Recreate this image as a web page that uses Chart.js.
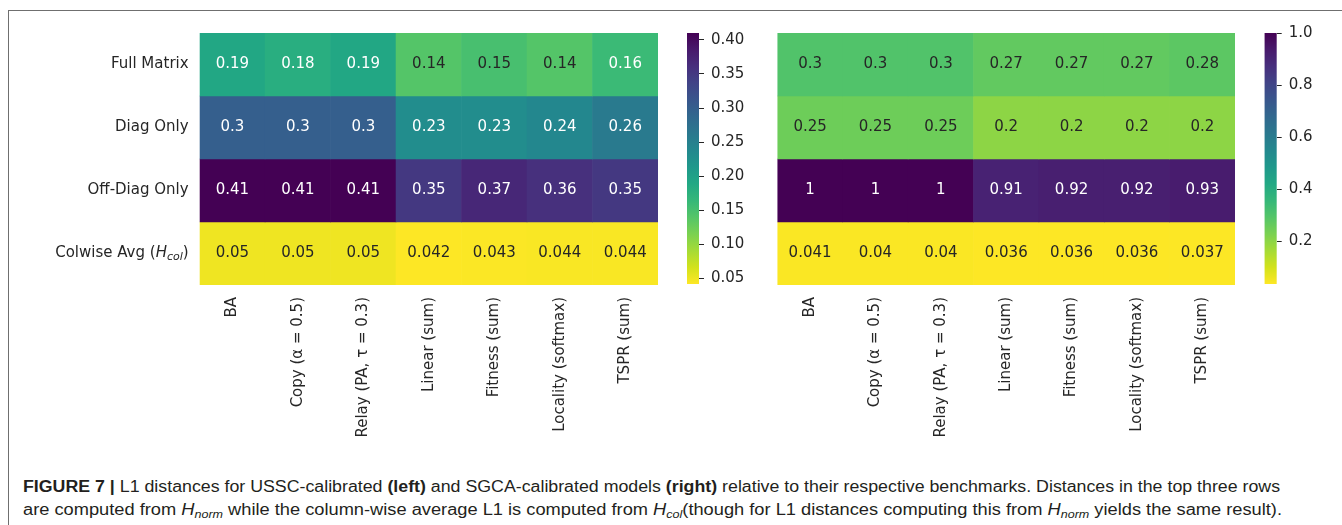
<!DOCTYPE html>
<html>
<head>
<meta charset="utf-8">
<script src="https://cdn.jsdelivr.net/npm/chart.js@4.4.1/dist/chart.umd.min.js"></script>
<style>
  html, body { margin: 0; padding: 0; background: #fff; }
  body { width: 1342px; height: 525px; position: relative; overflow: hidden; }
  .frame { position: absolute; left: 8px; top: 10px; width: 1340px; height: 520px;
           border-top: 1.5px solid #6f6f6f; border-left: 1.5px solid #6f6f6f; }
  .box { position: absolute; }
  .cap { position: absolute; left: 23px; white-space: nowrap; line-height: 20px;
         font-family: "Liberation Sans Narrow", "Liberation Sans", Arial, sans-serif;
         font-size: 16px; color: #231f20; transform-origin: 0 50%; }
  .cap sub { font-size: 11px; vertical-align: -3px; line-height: 0; }
</style>
</head>
<body>
<div class="frame"></div>
<div class="box" style="left:0;top:0;width:660px;height:450px"><canvas id="heatLeft"></canvas></div>
<div class="box" style="left:680px;top:0;width:90px;height:300px"><canvas id="barLeft"></canvas></div>
<div class="box" style="left:760px;top:0;width:480px;height:450px"><canvas id="heatRight"></canvas></div>
<div class="box" style="left:1255px;top:0;width:87px;height:300px"><canvas id="barRight"></canvas></div>

<div class="cap" id="cap1" data-w="1257" style="top:477px"><b>FIGURE 7 |</b> L1 distances for USSC-calibrated <b>(left)</b> and SGCA-calibrated models <b>(right)</b> relative to their respective benchmarks. Distances in the top three rows</div>
<div class="cap" id="cap2" data-w="1259" style="top:500px">are computed from <i>H</i><sub><i>norm</i></sub> while the column-wise average L1 is computed from <i>H</i><sub><i>col</i></sub>(though for L1 distances computing this from <i>H</i><sub><i>norm</i></sub> yields the same result).</div>

<script>
// Models (columns) and distance types (rows)
const models = ['BA', 'Copy (α = 0.5)', 'Relay (PA, τ = 0.3)', 'Linear (sum)',
                'Fitness (sum)', 'Locality (softmax)', 'TSPR (sum)'];
const rowLabels = ['Full Matrix', 'Diag Only', 'Off-Diag Only', 'Colwise Avg (H_col)'];

// USSC-calibrated L1 distances
const usscFull    = [0.19, 0.18, 0.19, 0.14, 0.15, 0.14, 0.16];
const usscDiag    = [0.3, 0.3, 0.3, 0.23, 0.23, 0.24, 0.26];
const usscOffDiag = [0.41, 0.41, 0.41, 0.35, 0.37, 0.36, 0.35];
const usscColwise = [0.05, 0.05, 0.05, 0.042, 0.043, 0.044, 0.044];

// SGCA-calibrated L1 distances
const sgcaFull    = [0.3, 0.3, 0.3, 0.27, 0.27, 0.27, 0.28];
const sgcaDiag    = [0.25, 0.25, 0.25, 0.2, 0.2, 0.2, 0.2];
const sgcaOffDiag = [1, 1, 1, 0.91, 0.92, 0.92, 0.93];
const sgcaColwise = [0.041, 0.04, 0.04, 0.036, 0.036, 0.036, 0.037];

// Colorbar tick labels
const usscTicks = [0.05, 0.10, 0.15, 0.20, 0.25, 0.30, 0.35, 0.40];
const sgcaTicks = [0.2, 0.4, 0.6, 0.8, 1.0];

const FONT = { family: '"DejaVu Sans", sans-serif', size: 15 };
const INK = '#262626';
const DARK_TEXT_LUMINANCE = 0.385;

// viridis colormap, 16 evenly spaced stops
const VIRIDIS = ['#440154', '#481a6c', '#472f7d', '#414487', '#39568c', '#31688e', '#2a788e', '#23888e',
                 '#1f988b', '#22a884', '#35b779', '#54c568', '#7ad151', '#a5db36', '#d2e21b', '#fde725'];
const hexRgb = h => [1, 3, 5].map(i => parseInt(h.slice(i, i + 2), 16));
function viridis(t) {
  t = Math.min(1, Math.max(0, t));
  const p = t * (VIRIDIS.length - 1), i = Math.min(Math.floor(p), VIRIDIS.length - 2), f = p - i;
  const a = hexRgb(VIRIDIS[i]), b = hexRgb(VIRIDIS[i + 1]);
  return a.map((c, k) => Math.round(c + (b[k] - c) * f));
}
// reversed viridis: low values yellow, high values purple
const cellRgb = (v, lo, hi) => viridis(1 - (v - lo) / (hi - lo));
const rgbStr = c => `rgb(${c[0]},${c[1]},${c[2]})`;
function luminance(c) {
  const lin = c.map(x => { x /= 255; return x <= 0.03928 ? x / 12.92 : Math.pow((x + 0.055) / 1.055, 2.4); });
  return 0.2126 * lin[0] + 0.7152 * lin[1] + 0.0722 * lin[2];
}
const fmt2g = v => String(parseFloat(v.toPrecision(2)));

// value annotations in the cells
const cellText = {
  id: 'cellText',
  afterDatasetsDraw(chart) {
    const ctx = chart.ctx;
    ctx.save();
    ctx.font = `${FONT.size}px ${FONT.family}`;
    ctx.textAlign = 'center';
    ctx.textBaseline = 'middle';
    chart.data.datasets.forEach((ds, di) => {
      chart.getDatasetMeta(di).data.forEach((bar, i) => {
        const c = ds.rgb[i];
        ctx.fillStyle = luminance(c) > DARK_TEXT_LUMINANCE ? INK : '#ffffff';
        ctx.fillText(fmt2g(ds.values[i]), bar.x, (bar.y + bar.base) / 2);
      });
    });
    ctx.restore();
  }
};

// row labels carrying a subscripted symbol, e.g. "(H_col)"
const richRowLabels = {
  id: 'richRowLabels',
  afterDraw(chart) {
    const ys = chart.scales.y;
    if (!ys.options.display) return;
    const ctx = chart.ctx;
    ctx.save();
    ctx.fillStyle = INK;
    ctx.textBaseline = 'middle';
    ctx.textAlign = 'left';
    ys.ticks.forEach((t, i) => {
      const m = /^(.*?)([A-Za-z])_(\w+)(.*)$/.exec(rowLabels[i]);
      if (!m) return;
      const reg = `${FONT.size}px ${FONT.family}`;
      const ital = `italic ${FONT.size}px ${FONT.family}`;
      const sub = `italic ${Math.round(FONT.size * 0.7)}px ${FONT.family}`;
      const parts = [[m[1], reg, 0], [m[2], ital, 0], [m[3], sub, 4], [m[4], reg, 0]];
      let w = 0;
      parts.forEach(p => { ctx.font = p[1]; p.push(ctx.measureText(p[0]).width); w += p[3]; });
      let x = ys.right - ys.options.ticks.padding - w;
      const y = ys.getPixelForValue(t.value);
      parts.forEach(p => { ctx.font = p[1]; ctx.fillText(p[0], x, y + p[2]); x += p[3]; });
    });
    ctx.restore();
  }
};

function heatmap(id, rows, lo, hi, showRows, pad, yWidth) {
  const datasets = rows.map((vals, r) => {
    const rgb = vals.map(v => cellRgb(v, lo, hi));
    return {
      data: vals.map(() => [r, r + 1]),
      values: vals,
      rgb: rgb,
      backgroundColor: rgb.map(rgbStr),
      borderWidth: 0,
      grouped: false,
      barPercentage: 1,
      categoryPercentage: 1
    };
  });
  return new Chart(document.getElementById(id), {
    type: 'bar',
    data: { labels: models, datasets },
    plugins: [cellText, richRowLabels],
    options: {
      responsive: true, maintainAspectRatio: false, animation: false,
      layout: { padding: pad },
      plugins: { legend: { display: false }, tooltip: { enabled: false } },
      scales: {
        x: {
          grid: { display: false, drawTicks: false }, border: { display: false },
          afterFit: s => { s.height = 165; },
          ticks: { font: FONT, color: INK, minRotation: 90, maxRotation: 90, autoSkip: false, padding: 12 }
        },
        y: {
          display: showRows, reverse: true, min: 0, max: rows.length,
          grid: { display: false, drawTicks: false }, border: { display: false },
          afterBuildTicks: s => { s.ticks = rowLabels.map((_, i) => ({ value: i + 0.5 })); },
          afterFit: s => { if (yWidth) s.width = yWidth; },
          ticks: { font: FONT, color: INK, padding: 11, autoSkip: false,
                   callback: (v, i) => rowLabels[i].includes('_') ? '' : rowLabels[i] }
        }
      }
    }
  });
}

function colorbar(id, lo, hi, ticks, decimals, pad, axisWidth) {
  return new Chart(document.getElementById(id), {
    type: 'bar',
    data: {
      labels: [''],
      datasets: [{
        data: [[lo, hi]],
        borderWidth: 0, barPercentage: 1, categoryPercentage: 1,
        backgroundColor: c => {
          const area = c.chart.chartArea;
          if (!area) return '#fde725';
          const g = c.chart.ctx.createLinearGradient(0, area.bottom, 0, area.top);
          VIRIDIS.slice().reverse().forEach((col, k) => g.addColorStop(k / (VIRIDIS.length - 1), col));
          return g;
        }
      }]
    },
    options: {
      responsive: true, maintainAspectRatio: false, animation: false,
      layout: { padding: pad },
      plugins: { legend: { display: false }, tooltip: { enabled: false } },
      scales: {
        x: { display: false },
        y: {
          position: 'right', min: lo, max: hi,
          border: { display: false },
          grid: { drawOnChartArea: false, drawTicks: true, tickLength: 5, color: INK, lineWidth: 1 },
          afterBuildTicks: s => { s.ticks = ticks.map(v => ({ value: v })); },
          afterFit: s => { s.width = axisWidth; },
          ticks: { font: FONT, color: INK, padding: 7, autoSkip: false, callback: v => v.toFixed(decimals) }
        }
      }
    }
  });
}

const usscRows = [usscFull, usscDiag, usscOffDiag, usscColwise];
const sgcaRows = [sgcaFull, sgcaDiag, sgcaOffDiag, sgcaColwise];
const usscLo = Math.min(...usscRows.flat()), usscHi = Math.max(...usscRows.flat());
const sgcaLo = Math.min(...sgcaRows.flat()), sgcaHi = Math.max(...sgcaRows.flat());

heatmap('heatLeft', usscRows, usscLo, usscHi, true, { top: 33, right: 2, left: 0, bottom: 0 }, 199.6);
colorbar('barLeft', usscLo, usscHi, usscTicks, 2, { top: 33, left: 7, bottom: 15, right: 0 }, 71);
heatmap('heatRight', sgcaRows, sgcaLo, sgcaHi, false, { top: 33, right: 5, left: 17.4, bottom: 0 }, 0);
colorbar('barRight', sgcaLo, sgcaHi, sgcaTicks, 1, { top: 33, left: 9.5, bottom: 15, right: 0 }, 65.3);

// stretch each caption line to the text block width
function fitCaption() {
  document.querySelectorAll('.cap').forEach(el => {
    el.style.transform = 'none';
    const w = el.getBoundingClientRect().width;
    el.style.transform = `scaleX(${(+el.dataset.w / w).toFixed(4)})`;
  });
}
fitCaption();
if (document.fonts && document.fonts.ready) document.fonts.ready.then(fitCaption);
</script>
</body>
</html>
